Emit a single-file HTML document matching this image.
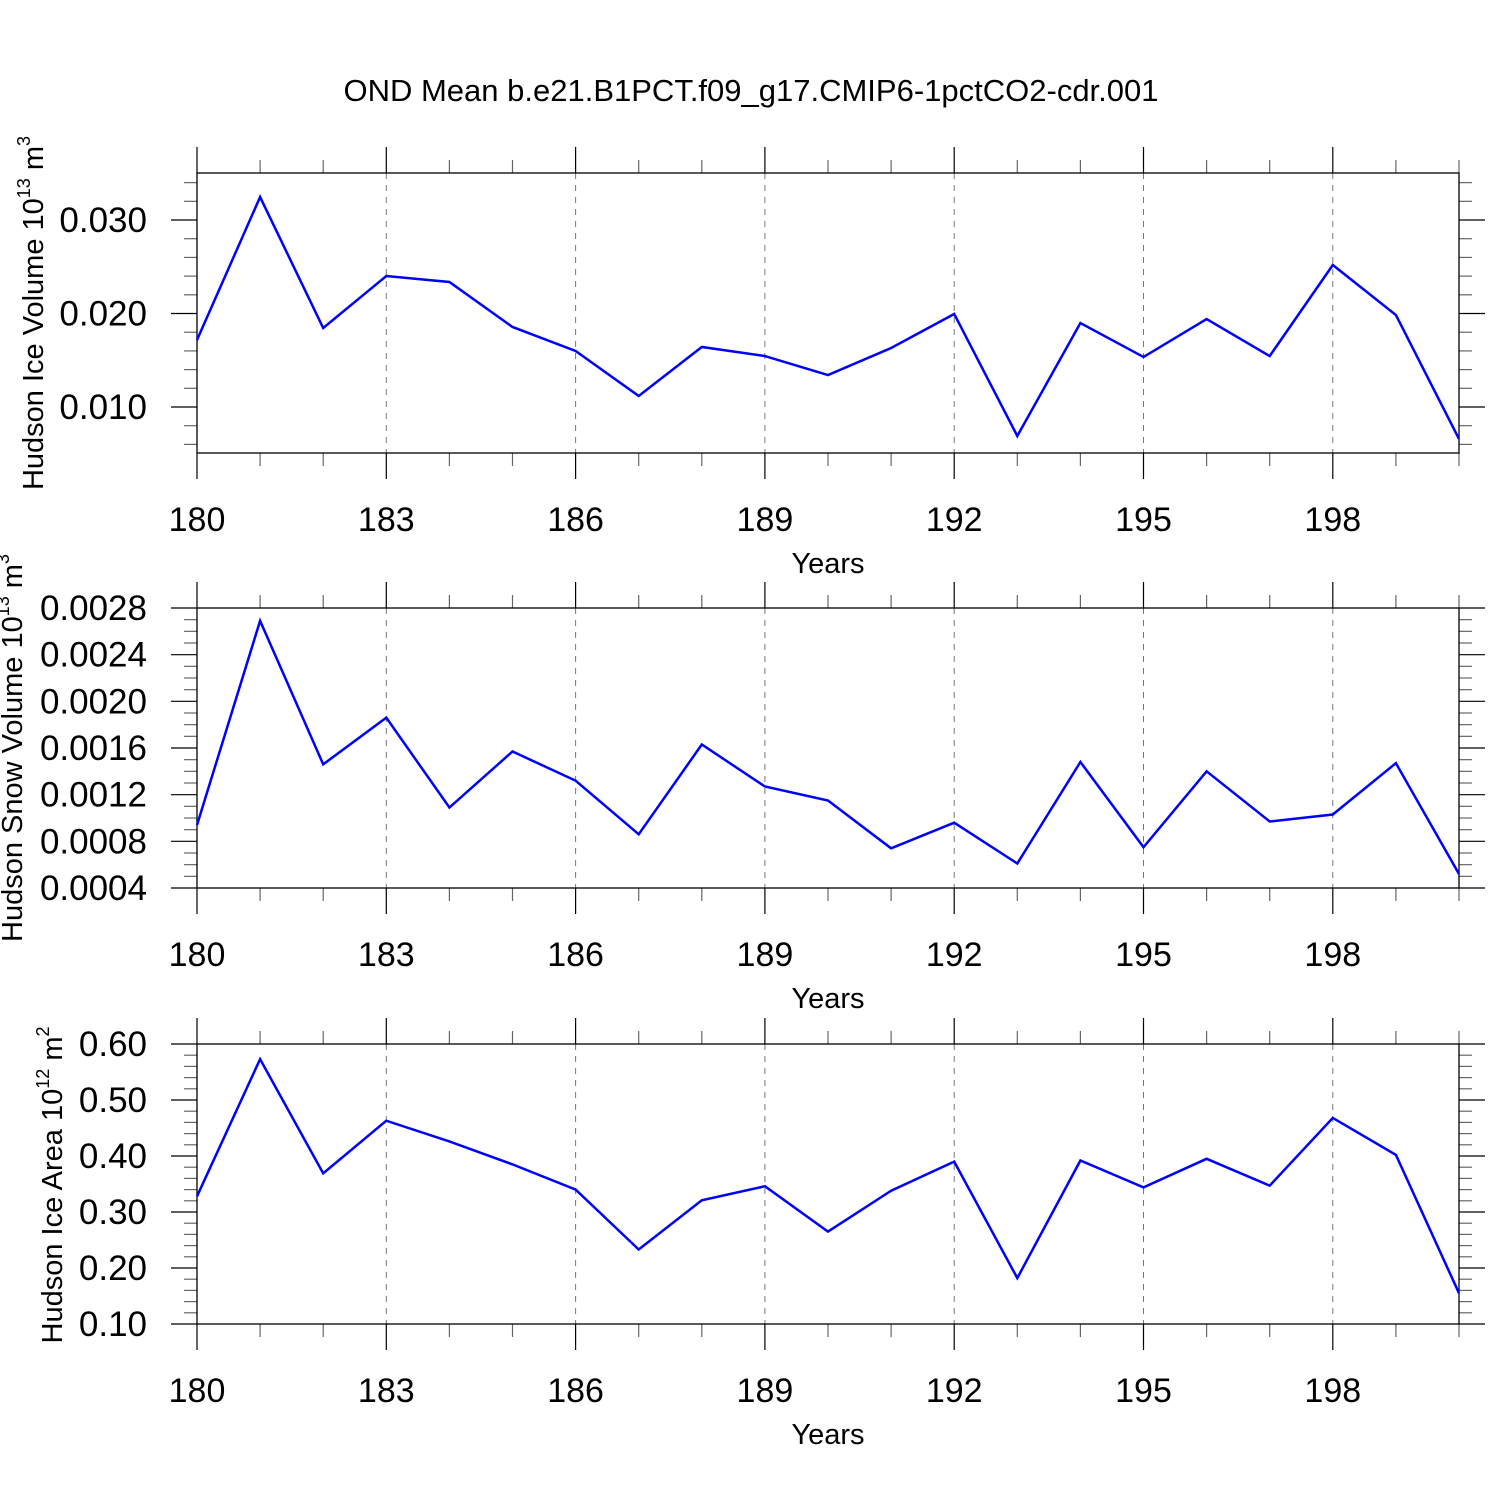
<!DOCTYPE html>
<html><head><meta charset="utf-8"><style>
html,body{margin:0;padding:0;background:#fff;}
svg{display:block;font-family:"Liberation Sans",sans-serif;}
</style></head><body>
<svg id="chart" width="1500" height="1500" viewBox="0 0 1500 1500" xmlns="http://www.w3.org/2000/svg">
<rect width="1500" height="1500" fill="#fff"/>
<text x="751" y="101" font-size="31" text-anchor="middle">OND Mean b.e21.B1PCT.f09_g17.CMIP6-1pctCO2-cdr.001</text>
</svg>
<script>
const years = [180,181,182,183,184,185,186,187,188,189,190,191,192,193,194,195,196,197,198,199,200];
const xTickLabels = ["180","183","186","189","192","195","198"];
const iceVolume = [0.01717,0.03246,0.01845,0.02401,0.02337,0.01856,0.01599,0.01118,0.01642,0.01545,0.01342,0.01631,0.01995,0.00690,0.01898,0.01535,0.01941,0.01545,0.02519,0.01984,0.00658];
const snowVolume = [0.00094,0.00269,0.00146,0.00186,0.00109,0.00157,0.00132,0.00086,0.00163,0.00127,0.00115,0.00074,0.00096,0.00061,0.00148,0.00075,0.00140,0.00097,0.00103,0.00147,0.00052];
const iceArea = [0.328,0.573,0.369,0.463,0.426,0.385,0.340,0.233,0.321,0.346,0.265,0.338,0.390,0.182,0.392,0.344,0.395,0.347,0.468,0.402,0.155];
const iceVolTicks = ["0.010","0.020","0.030"];
const snowTicks = ["0.0004","0.0008","0.0012","0.0016","0.0020","0.0024","0.0028"];
const areaTicks = ["0.10","0.20","0.30","0.40","0.50","0.60"];

const NS="http://www.w3.org/2000/svg";
const svg=document.getElementById('chart');
function mk(tag,attrs,parent){const e=document.createElementNS(NS,tag);for(const k in attrs)e.setAttribute(k,attrs[k]);(parent||svg).appendChild(e);return e;}
const L=197,R=1459;
function xs(v){return L+(v-180)/(200-180)*(R-L);}

function panel(cfg){
  const g=mk('g',{});
  
  
  const T=cfg.top,B=cfg.bottom;
  const ys=v=>B-(v-cfg.min)/(cfg.max-cfg.min)*(B-T);
  for(let yr=183;yr<200;yr+=3){
    const l=mk('line',{x1:xs(yr),x2:xs(yr),y1:T,y2:B,stroke:'#777','stroke-width':1,'stroke-dasharray':'6,6'},g);
    
    
  }
  for(let yr=180;yr<=200;yr++){
    const major=(yr-180)%3===0;
    const len=major?26:13;
    mk('line',{x1:xs(yr),x2:xs(yr),y1:T-len,y2:T,stroke:major?'#000':'#666','stroke-width':1.2},g);
    mk('line',{x1:xs(yr),x2:xs(yr),y1:B,y2:B+len,stroke:major?'#000':'#666','stroke-width':1.2},g);
  }
  xTickLabels.forEach(s=>{
    const t=mk('text',{x:xs(+s),y:B+78,'font-size':34,'text-anchor':'middle'},g);
    t.textContent=s;
    
    
  });
  const xt=mk('text',{x:828,y:B+120,'font-size':29,'text-anchor':'middle'},g);
  xt.textContent='Years';
  
  
  const step=cfg.minor;
  const n=Math.round((cfg.max-cfg.min)/step);
  for(let i=0;i<=n+1;i++){
    const v=cfg.tickStart+i*step;
    if(v>cfg.max+1e-12||v<cfg.min-1e-12)continue;
    const r=(v-cfg.majorBase)/cfg.major;
    const major=Math.abs(r-Math.round(r))<1e-6;
    const len=major?26:13;
    mk('line',{x1:L-len,x2:L,y1:ys(v),y2:ys(v),stroke:major?'#000':'#666','stroke-width':1.2},g);
    mk('line',{x1:R,x2:R+len,y1:ys(v),y2:ys(v),stroke:major?'#000':'#666','stroke-width':1.2},g);
  }
  cfg.ticks.forEach(s=>{
    const t=mk('text',{x:147,y:ys(+s)+12,'font-size':35,'text-anchor':'end'},g);
    t.textContent=s;
    
    
  });
  const f=mk('rect',{x:L,y:T,width:R-L,height:B-T,fill:'none',stroke:'#000','stroke-width':1.3},g);
  
  
  const pts=cfg.data.map((v,i)=>xs(years[i])+','+ys(v)).join(' ');
  const p=mk('polyline',{points:pts,fill:'none',stroke:'#0000ff','stroke-width':2.5,'stroke-linejoin':'miter'},g);
  
  
  const yt=mk('text',{transform:`translate(${cfg.titleX},${cfg.titleY}) rotate(-90)`,'font-size':29,'text-anchor':'middle'},g);
  yt.innerHTML=cfg.titleText+' 10<tspan dy="-13" font-size="18">'+cfg.exp+'</tspan><tspan dy="13"> m</tspan><tspan dy="-13" font-size="18">'+cfg.unitExp+'</tspan>';
  
  
}
panel({name:'ice-volume-panel',top:173,bottom:453,min:0.00508,max:0.03503,minor:0.002,major:0.01,majorBase:0,tickStart:0.006,ticks:iceVolTicks,data:iceVolume,titleX:43,titleY:313,titleText:'Hudson Ice Volume',exp:'13',unitExp:'3'});
panel({name:'snow-volume-panel',top:608,bottom:888,min:0.0004,max:0.0028,minor:0.0001,major:0.0004,majorBase:0,tickStart:0.0004,ticks:snowTicks,data:snowVolume,titleX:22,titleY:748,titleText:'Hudson Snow Volume',exp:'13',unitExp:'3'});
panel({name:'ice-area-panel',top:1044,bottom:1324,min:0.10,max:0.60,minor:0.02,major:0.1,majorBase:0,tickStart:0.10,ticks:areaTicks,data:iceArea,titleX:62,titleY:1185,titleText:'Hudson Ice Area',exp:'12',unitExp:'2'});
</script>
</body></html>
